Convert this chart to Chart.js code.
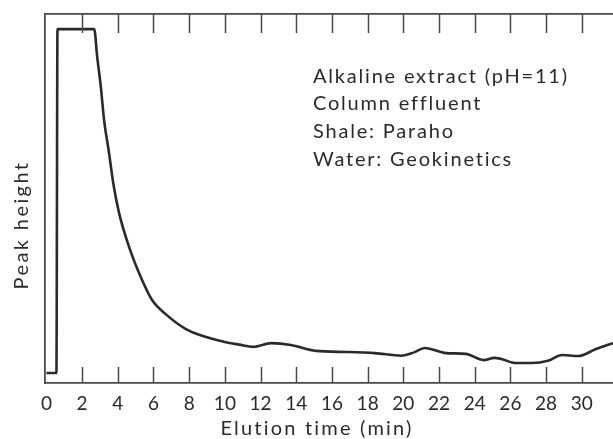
<!DOCTYPE html>
<html>
<head>
<meta charset="utf-8">
<script src="https://cdn.jsdelivr.net/npm/chart.js@4"></script>
<style>
  html, body { margin: 0; padding: 0; background: #fff; }
  #wrap { width: 613px; height: 439px; }
</style>
</head>
<body>
<div id="wrap"><canvas id="c" width="613" height="439"></canvas></div>
<script>
// Elution time (min) and relative peak height (0 = baseline, 100 = top of frame)
const elutionTime = [0, 0.56, 0.62, 2.68, 2.84, 3.05, 3.23, 3.51, 3.75, 4.07, 4.63, 5.36, 5.92, 6.7, 7.82, 8.6, 10.0, 10.8, 11.6, 12.6, 13.7, 15.1, 16.9, 18.4, 19.9, 20.6, 21.2, 22.4, 23.5, 24.5, 25.1, 25.5, 26.3, 27.2, 28.1, 28.9, 29.8, 30.8, 31.75];
const peakHeight = [2.7, 2.7, 95.9, 95.9, 88.6, 80.2, 71.3, 62.3, 54.0, 46.1, 36.9, 27.9, 22.5, 18.6, 14.6, 13.0, 11.1, 10.4, 9.8, 10.8, 10.3, 8.7, 8.4, 8.1, 7.4, 8.3, 9.5, 8.1, 7.9, 6.2, 6.8, 6.5, 5.4, 5.4, 6.0, 7.6, 7.3, 9.2, 10.8];
const tickValues = [0, 2, 4, 6, 8, 10, 12, 14, 16, 18, 20, 22, 24, 26, 28, 30];
const annotationLines = ["Alkaline extract (pH=11)", "Column effluent", "Shale: Paraho", "Water: Geokinetics"];
const xTitle = "Elution time (min)";
const yTitle = "Peak height";

const FONT = "Lato, 'Open Sans', sans-serif";
const INK = "#2a2a2a";
const AXIS = "#4a4a4a";

const points = elutionTime.map((t, i) => ({ x: t, y: peakHeight[i] }));

const decorPlugin = {
  id: 'decor',
  afterDraw(chart) {
    const ctx = chart.ctx;
    const xs = chart.scales.x;
    const area = chart.chartArea;
    ctx.save();
    // inward tick marks on bottom and top frame lines
    ctx.strokeStyle = AXIS;
    ctx.lineWidth = 1.5;
    tickValues.forEach(v => {
      if (v === 0) return;
      const px = Math.round(xs.getPixelForValue(v)) + 0.5;
      ctx.beginPath();
      ctx.moveTo(px, area.bottom);
      ctx.lineTo(px, area.bottom - 16);
      ctx.stroke();
      ctx.beginPath();
      ctx.moveTo(px, area.top);
      ctx.lineTo(px, area.top + 19);
      ctx.stroke();
    });
    // annotation text
    ctx.fillStyle = INK;
    ctx.font = "20px " + FONT;
    ctx.letterSpacing = "1.8px";
    ctx.textAlign = "left";
    ctx.textBaseline = "middle";
    const ys = [77, 104, 132, 160];
    annotationLines.forEach((s, i) => ctx.fillText(s, 313, ys[i]));
    // x-axis title
    ctx.letterSpacing = "2.2px";
    ctx.textAlign = "center";
    ctx.fillText(xTitle, 317, 429);
    // y-axis title
    ctx.letterSpacing = "2.4px";
    ctx.translate(22, 225);
    ctx.rotate(-Math.PI / 2);
    ctx.fillText(yTitle, 0, 0);
    ctx.restore();
  }
};

new Chart(document.getElementById('c'), {
  type: 'line',
  data: {
    datasets: [{
      data: points,
      borderColor: INK,
      borderWidth: 2.6,
      pointRadius: 0,
      cubicInterpolationMode: 'monotone',
      fill: false
    }]
  },
  options: {
    responsive: false,
    animation: false,
    events: [],
    layout: { padding: { left: 45, top: 14, right: 0, bottom: 0 } },
    plugins: { legend: { display: false }, tooltip: { enabled: false } },
    scales: {
      x: {
        type: 'linear',
        position: 'bottom',
        min: -0.08,
        max: 31.75,
        afterFit(s) { s.height = 56; },
        afterBuildTicks(s) { s.ticks = tickValues.map(v => ({ value: v })); },
        border: { display: true, color: AXIS, width: 1.8 },
        grid: { display: true, drawOnChartArea: false, drawTicks: false, color: 'rgba(0,0,0,0)' },
        ticks: {
          color: INK,
          padding: 9,
          maxRotation: 0,
          autoSkip: false,
          font: { family: FONT, size: 19 },
          callback: v => String(v)
        }
      },
      x2: {
        type: 'linear',
        position: 'top',
        min: -0.08,
        max: 31.75,
        afterFit(s) { s.height = 0; },
        border: { display: true, color: AXIS, width: 1.8 },
        grid: { display: true, drawOnChartArea: false, drawTicks: false, color: 'rgba(0,0,0,0)' },
        ticks: { display: false }
      },
      y: {
        type: 'linear',
        min: 0,
        max: 100,
        afterFit(s) { s.width = 0; },
        border: { display: true, color: AXIS, width: 1.8 },
        grid: { display: true, drawOnChartArea: false, drawTicks: false, color: 'rgba(0,0,0,0)' },
        ticks: { display: false }
      }
    }
  },
  plugins: [decorPlugin]
});
</script>
</body>
</html>
